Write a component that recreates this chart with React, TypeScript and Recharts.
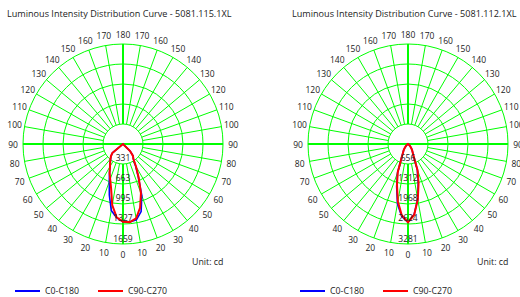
import React from 'react';
import { RadarChart, Radar, PolarGrid, PolarAngleAxis, PolarRadiusAxis, Legend } from 'recharts';

// gamma angles (degrees from nadir) for each half plane
const gammaAngles = [0, 5, 10, 15, 20, 25, 30, 35, 40, 45, 50, 55, 60, 65, 70, 75, 80, 85, 90,
  95, 100, 105, 110, 115, 120, 125, 130, 135, 140, 145, 150, 155, 160, 165, 170, 175, 180];

// Panel 1: 5081.115.1XL (cd)
const p1Title = 'Luminous Intensity Distribution Curve - 5081.115.1XL';
const p1Rings = [331, 663, 995, 1327, 1659];
const p1C0Right = [1288, 1300, 1277, 1161, 912, 600, 415, 300, 262, 170, 0, 0, 0, 0, 0, 0, 0, 0, 0,
  0, 0, 0, 0, 0, 0, 0, 0, 0, 0, 0, 0, 0, 0, 0, 0, 0, 0];
const p1C0Left = [1288, 1225, 1120, 876, 664, 530, 430, 368, 320, 280, 228, 0, 0, 0, 0, 0, 0, 0, 0,
  0, 0, 0, 0, 0, 0, 0, 0, 0, 0, 0, 0, 0, 0, 0, 0, 0, 0];
const p1C90Right = [1291, 1301, 1253, 1095, 871, 614, 431, 299, 257, 166, 0, 0, 0, 0, 0, 0, 0, 0, 0,
  0, 0, 0, 0, 0, 0, 0, 0, 0, 0, 0, 0, 0, 0, 0, 0, 0, 0];
const p1C90Left = [1291, 1219, 1029, 763, 622, 526, 431, 373, 324, 282, 232, 0, 0, 0, 0, 0, 0, 0, 0,
  0, 0, 0, 0, 0, 0, 0, 0, 0, 0, 0, 0, 0, 0, 0, 0, 0, 0];

// Panel 2: 5081.112.1XL (cd)
const p2Title = 'Luminous Intensity Distribution Curve - 5081.112.1XL';
const p2Rings = [656, 1312, 1968, 2624, 3281];
const p2C0Right = [2569, 2320, 1830, 1300, 890, 420, 295, 225, 148, 88, 58, 28, 0, 0, 0, 0, 0, 0, 0,
  0, 0, 0, 0, 0, 0, 0, 0, 0, 0, 0, 0, 0, 0, 0, 0, 0, 0];
const p2C0Left = [2569, 2380, 1990, 1440, 1000, 500, 330, 246, 164, 98, 66, 33, 0, 0, 0, 0, 0, 0, 0,
  0, 0, 0, 0, 0, 0, 0, 0, 0, 0, 0, 0, 0, 0, 0, 0, 0, 0];
const p2C90Right = [2569, 2330, 1850, 1340, 920, 430, 300, 230, 150, 90, 60, 30, 0, 0, 0, 0, 0, 0, 0,
  0, 0, 0, 0, 0, 0, 0, 0, 0, 0, 0, 0, 0, 0, 0, 0, 0, 0];
const p2C90Left = [2569, 2346, 1919, 1394, 984, 492, 328, 246, 164, 98, 66, 33, 0, 0, 0, 0, 0, 0, 0,
  0, 0, 0, 0, 0, 0, 0, 0, 0, 0, 0, 0, 0, 0, 0, 0, 0, 0];

const seriesNames = ['C0-C180', 'C90-C270'];
const unitLabel = 'Unit: cd';

// angle-axis tick values (theta, 0 = nadir, counter-clockwise on screen)
const thetaTicks = [0, 10, 20, 30, 40, 50, 60, 70, 80, 90, 100, 110, 120, 130, 140, 150, 160, 170,
  180, 190, 200, 210, 220, 230, 240, 250, 260, 270, 280, 290, 300, 310, 320, 330, 340, 350];

const GREEN = '#00ff00';
const BLUE = '#0000ff';
const RED = '#ff0000';
const TEXT = '#222';
const FONT = '"Open Sans", sans-serif';
const FS_TITLE = 9.1;
const FS_AXIS = 8.5;
const FS_SMALL = 8.8;

// Build the full-circle table: theta 0..355, right half = gamma, left half = 360 - gamma
function buildRows(c0R: number[], c0L: number[], c90R: number[], c90L: number[]) {
  const rows: { theta: number; c0: number; c90: number }[] = [];
  gammaAngles.forEach((g, i) => {
    rows.push({ theta: g, c0: c0R[i], c90: c90R[i] });
  });
  for (let i = gammaAngles.length - 2; i >= 1; i--) {
    rows.push({ theta: 360 - gammaAngles[i], c0: c0L[i], c90: c90L[i] });
  }
  return rows;
}

const START = -90;
const gridAngles = thetaTicks.map((t) => START + t);

const AngleTick = (p: any) => {
  const v = Math.round(Number(p.payload?.value));
  if (v % 10 !== 0 || v >= 360) return <g />;
  const lab = v <= 180 ? v : 360 - v;
  return (
    <text x={p.x} y={p.y} textAnchor="middle" dominantBaseline="central" fontSize={FS_AXIS} fill={TEXT} fontFamily={FONT}>
      {lab}
    </text>
  );
};

const RingTick = (p: any) => (
  <text x={p.x} y={p.y - 6} textAnchor="middle" dominantBaseline="central" fontSize={FS_AXIS} fill={TEXT} fontFamily={FONT}>
    {p.payload?.value}
  </text>
);

const LegendContent = (props: any) => {
  const payload = props.payload || [];
  return (
    <div style={{ position: 'relative', height: 14, fontSize: FS_SMALL, fontFamily: FONT, color: TEXT }}>
      {payload.map((e: any, i: number) => (
        <div key={i} style={{ position: 'absolute', left: 15 + i * 83, top: 0, height: 14, display: 'flex', alignItems: 'center' }}>
          <div style={{ width: 25, height: 2, background: e.color || e.payload?.stroke }} />
          <span style={{ marginLeft: 5, whiteSpace: 'nowrap' }}>{e.value}</span>
        </div>
      ))}
    </div>
  );
};

const W = 285;
const H = 297;
const CX = 123;
const CY = 144;
const R = 100;
const margin = { top: 0, right: 0, bottom: 0, left: 0 };

function Panel({ left, title, rows, max, rings }: any) {
  return (
    <div style={{ position: 'absolute', left, top: 0, width: W, height: H }}>
      <div style={{ position: 'absolute', left: 0, top: 0 }}>
        <RadarChart width={W} height={H} data={rows} cx={CX} cy={CY} innerRadius={20} outerRadius={R}
          startAngle={START} endAngle={START + 360} margin={margin}>
          <PolarGrid gridType="circle" polarAngles={gridAngles} polarRadius={[20, 40, 60, 80, 100]} stroke={GREEN} strokeWidth={1} />
          <PolarGrid gridType="circle" polarAngles={[90, -90]} polarRadius={[]} stroke={GREEN} strokeWidth={2} />
        </RadarChart>
      </div>
      <div style={{ position: 'absolute', left: 0, top: 0 }}>
        <RadarChart width={W} height={H} data={rows} cx={CX} cy={CY} innerRadius={0} outerRadius={R}
          startAngle={START} endAngle={START + 360} margin={margin}>
          <PolarGrid gridType="circle" polarAngles={[0, 180]} polarRadius={[]} stroke={GREEN} strokeWidth={2} />
          <PolarAngleAxis dataKey="theta" type="number" domain={[0, 360]} allowDataOverflow ticks={thetaTicks} tickCount={37}
            tick={AngleTick} tickLine={false} axisLine={false} tickSize={10} />
          <PolarRadiusAxis angle={-90} type="number" domain={[0, max]} allowDataOverflow ticks={rings} tick={RingTick} axisLine={false} tickLine={false} />
          <Radar name={seriesNames[0]} dataKey="c0" stroke={BLUE} strokeWidth={1.6} fill="none" fillOpacity={0} dot={false} isAnimationActive={false} legendType="line" />
          <Radar name={seriesNames[1]} dataKey="c90" stroke={RED} strokeWidth={2} fill="none" fillOpacity={0} dot={false} isAnimationActive={false} legendType="line" />
          <Legend content={LegendContent} wrapperStyle={{ left: 0, top: 284, bottom: 'auto', width: W, height: 14 }} />
        </RadarChart>
      </div>
      <div style={{ position: 'absolute', left: 7, top: 7, fontSize: FS_TITLE, lineHeight: '14px', whiteSpace: 'nowrap', color: TEXT, fontFamily: FONT }}>
        {title}
      </div>
      <div style={{ position: 'absolute', left: 192, top: 255, fontSize: FS_SMALL, lineHeight: '14px', whiteSpace: 'nowrap', color: TEXT, fontFamily: FONT }}>
        {unitLabel}
      </div>
    </div>
  );
}

export default function App() {
  const rows1 = buildRows(p1C0Right, p1C0Left, p1C90Right, p1C90Left);
  const rows2 = buildRows(p2C0Right, p2C0Left, p2C90Right, p2C90Left);
  return (
    <div style={{ position: 'absolute', left: 0, top: 0, width: 520, height: 297, overflow: 'hidden', background: '#fff', fontFamily: FONT }}>
      <Panel left={0} title={p1Title} rows={rows1} max={1659} rings={p1Rings} />
      <Panel left={285} title={p2Title} rows={rows2} max={3281} rings={p2Rings} />
    </div>
  );
}
